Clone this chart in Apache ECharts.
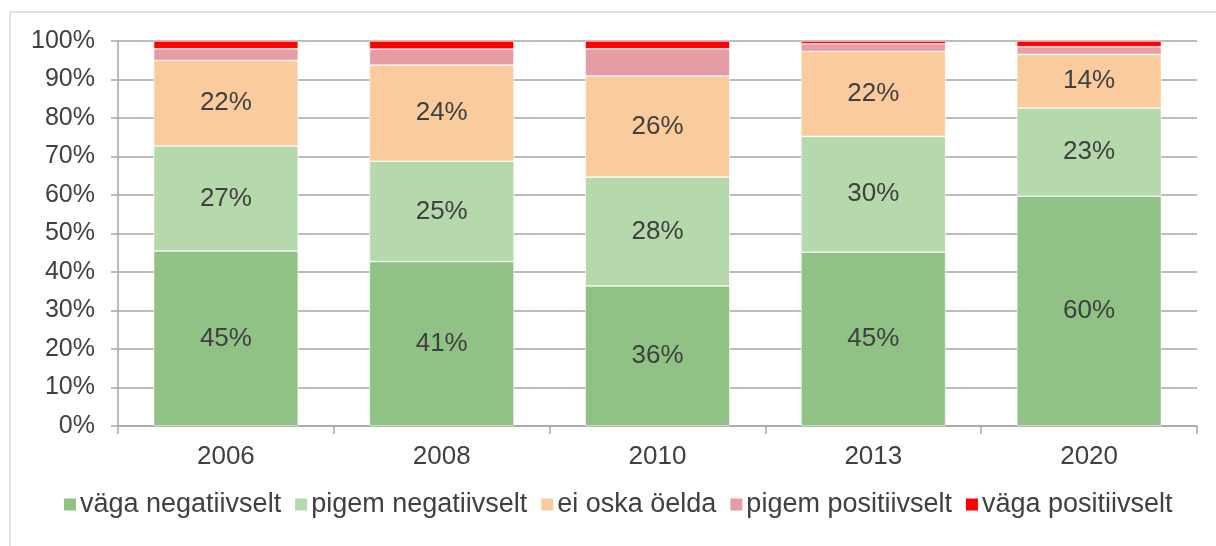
<!DOCTYPE html>
<html>
<head>
<meta charset="utf-8">
<script src="https://cdn.jsdelivr.net/npm/echarts@6/dist/echarts.min.js"></script>
<style>
    html, body { margin: 0; padding: 0; background: #fff; }
    #chart { width: 1216px; height: 546px; }
</style>
</head>
<body>
<div id="chart"></div>
<script>
    // aastad
    var years = ['2006', '2008', '2010', '2013', '2020'];
    var seriesNames = ['väga negatiivselt', 'pigem negatiivselt', 'ei oska öelda', 'pigem positiivselt', 'väga positiivselt'];
    // vastuste osakaalud (%), loetud jooniselt
    var vagaNeg = [45, 41, 36, 45, 60];
    var pigemNeg = [27, 25, 28, 30, 23];
    var eiOska = [22, 24, 26, 22, 14];
    var pigemPos = [3, 4, 7, 2, 2];
    var vagaPos = [2, 2, 2, 0.7, 1.5];
    var colors = ['#8fc284', '#b5d8ac', '#facb9c', '#e59ca4', '#ff0000'];
    var yTicks = ['0%', '10%', '20%', '30%', '40%', '50%', '60%', '70%', '80%', '90%', '100%'];

    var raw = [vagaNeg, pigemNeg, eiOska, pigemPos, vagaPos];
    var totals = years.map(function (y, i) {
        return raw.reduce(function (s, arr) { return s + arr[i]; }, 0);
    });

    var series = raw.map(function (arr, k) {
        return {
            name: seriesNames[k],
            type: 'bar',
            stack: 'total',
            barCategoryGap: '33%',
            itemStyle: { color: colors[k], borderColor: '#fff', borderWidth: 0.6 },
            label: {
                show: k < 3,
                position: 'inside',
                color: '#404040',
                fontSize: 26,
                fontFamily: 'Liberation Sans, Arial',
                formatter: function (p) { return arr[p.dataIndex] + '%'; }
            },
            emphasis: { disabled: true },
            data: arr.map(function (v, i) { return v / totals[i] * 100; })
        };
    });

    var chart = echarts.init(document.getElementById('chart'));
    chart.setOption({
        animation: false,
        textStyle: { fontFamily: 'Liberation Sans, Arial' },
        graphic: [{
            type: 'polyline',
            shape: { points: [[10, 560], [10, 12], [1230, 12]] },
            style: { stroke: '#d9d9d9', lineWidth: 1.5, fill: null }
        }],
        grid: { left: 118, right: 19, top: 41, bottom: 120, containLabel: false },
        legend: {
            bottom: 28,
            left: 62,
            itemWidth: 14,
            itemHeight: 14,
            itemGap: 12,
            padding: 0,
            icon: 'rect',
            textStyle: { fontSize: 27, color: '#404040', padding: [0, 0, 0, -2] },
            data: seriesNames
        },
        xAxis: {
            type: 'category',
            data: years,
            axisLine: { lineStyle: { color: '#a6a6a6', width: 1.5 } },
            axisTick: { show: true, length: 8, lineStyle: { color: '#a6a6a6', width: 1.5 } },
            axisLabel: { fontSize: 26, color: '#404040', margin: 18 }
        },
        yAxis: {
            type: 'value',
            min: 0,
            max: 100,
            interval: 10,
            axisLine: { show: true, lineStyle: { color: '#a6a6a6', width: 1.5 } },
            axisTick: { show: true, length: 7, lineStyle: { color: '#a6a6a6', width: 1.5 } },
            splitLine: { lineStyle: { color: '#a6a6a6', width: 1.5 } },
            axisLabel: {
                fontSize: 25,
                color: '#404040',
                margin: 23,
                formatter: function (v) { return yTicks[Math.round(v / 10)]; }
            }
        },
        series: series
    });
</script>
</body>
</html>
